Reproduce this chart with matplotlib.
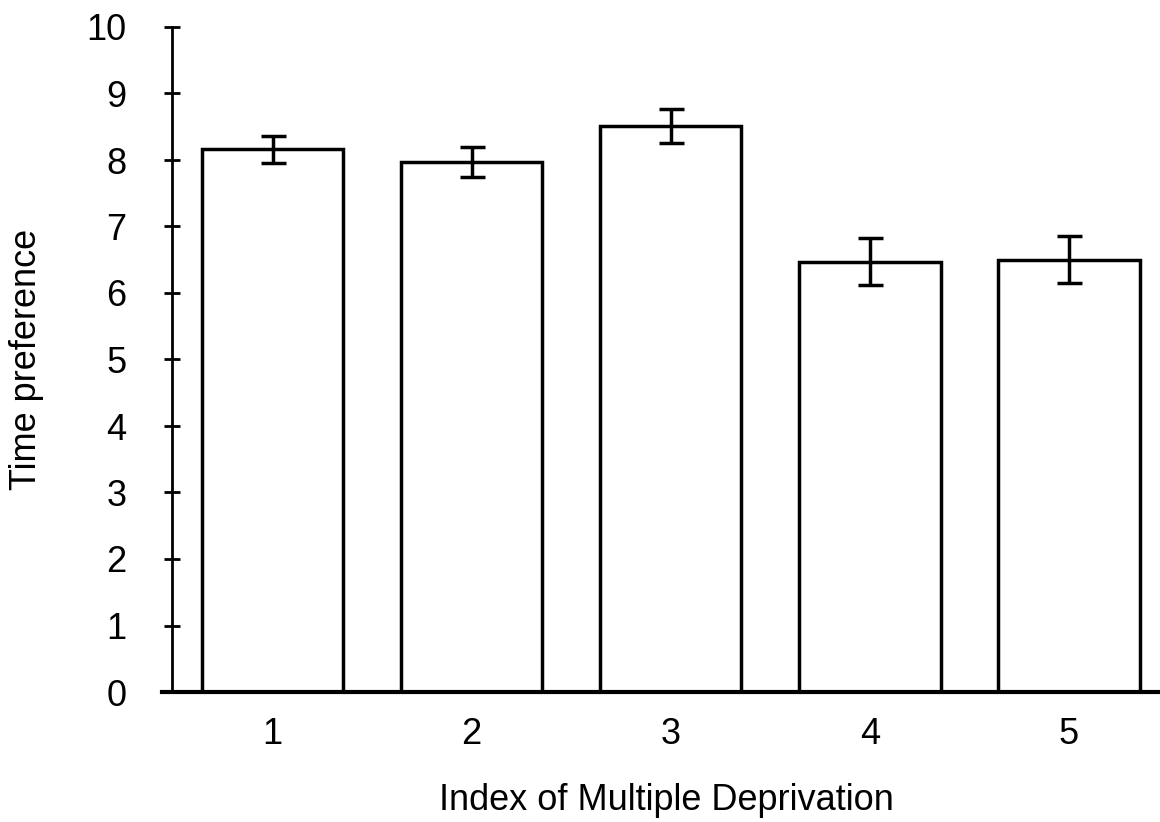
import matplotlib
matplotlib.use("Agg")
import matplotlib.pyplot as plt
import matplotlib.patheffects as pe

# Index of Multiple Deprivation quintiles
categorias = [1, 2, 3, 4, 5]
medias = [8.16, 7.97, 8.51, 6.47, 6.50]
errores = [0.20, 0.22, 0.25, 0.35, 0.35]

plt.rcParams['font.family'] = ['Liberation Sans', 'DejaVu Sans']

fig = plt.figure(figsize=(11.6, 8.22), dpi=100)
ax = fig.add_axes([172/1160, 130/822, (1160-172)/1160, (692-27)/822])

barras = ax.bar(categorias, medias, width=0.71, color='white', edgecolor='black',
                linewidth=2.5, zorder=2)
for b in barras:
    b.set_path_effects([pe.SimplePatchShadow(offset=(1.2, -1.2), shadow_rgbFace='black', alpha=1),
                        pe.Normal()])
ax.errorbar(categorias, medias, yerr=errores, fmt='none', ecolor='black',
            elinewidth=2.5, capsize=9, capthick=2.5, zorder=3)

ax.set_xlim(0.495, 5.457)
ax.set_ylim(0, 10)
ax.set_yticks(range(0, 11))
ax.set_xticks(categorias)

for s in ['top', 'right']:
    ax.spines[s].set_visible(False)
ax.spines['left'].set_linewidth(2)
ax.spines['bottom'].set_linewidth(3)
ax.spines['bottom'].set_bounds(0.445, 5.457)

ax.tick_params(axis='y', direction='inout', length=12, width=2, pad=27, labelsize=26)
ax.tick_params(axis='x', length=0, pad=18, labelsize=26)

ax.set_xlabel("Index of Multiple Deprivation", fontsize=26, labelpad=22)
ax.set_ylabel("Time preference", fontsize=26, labelpad=30)

plt.savefig("out.png", dpi=100)
